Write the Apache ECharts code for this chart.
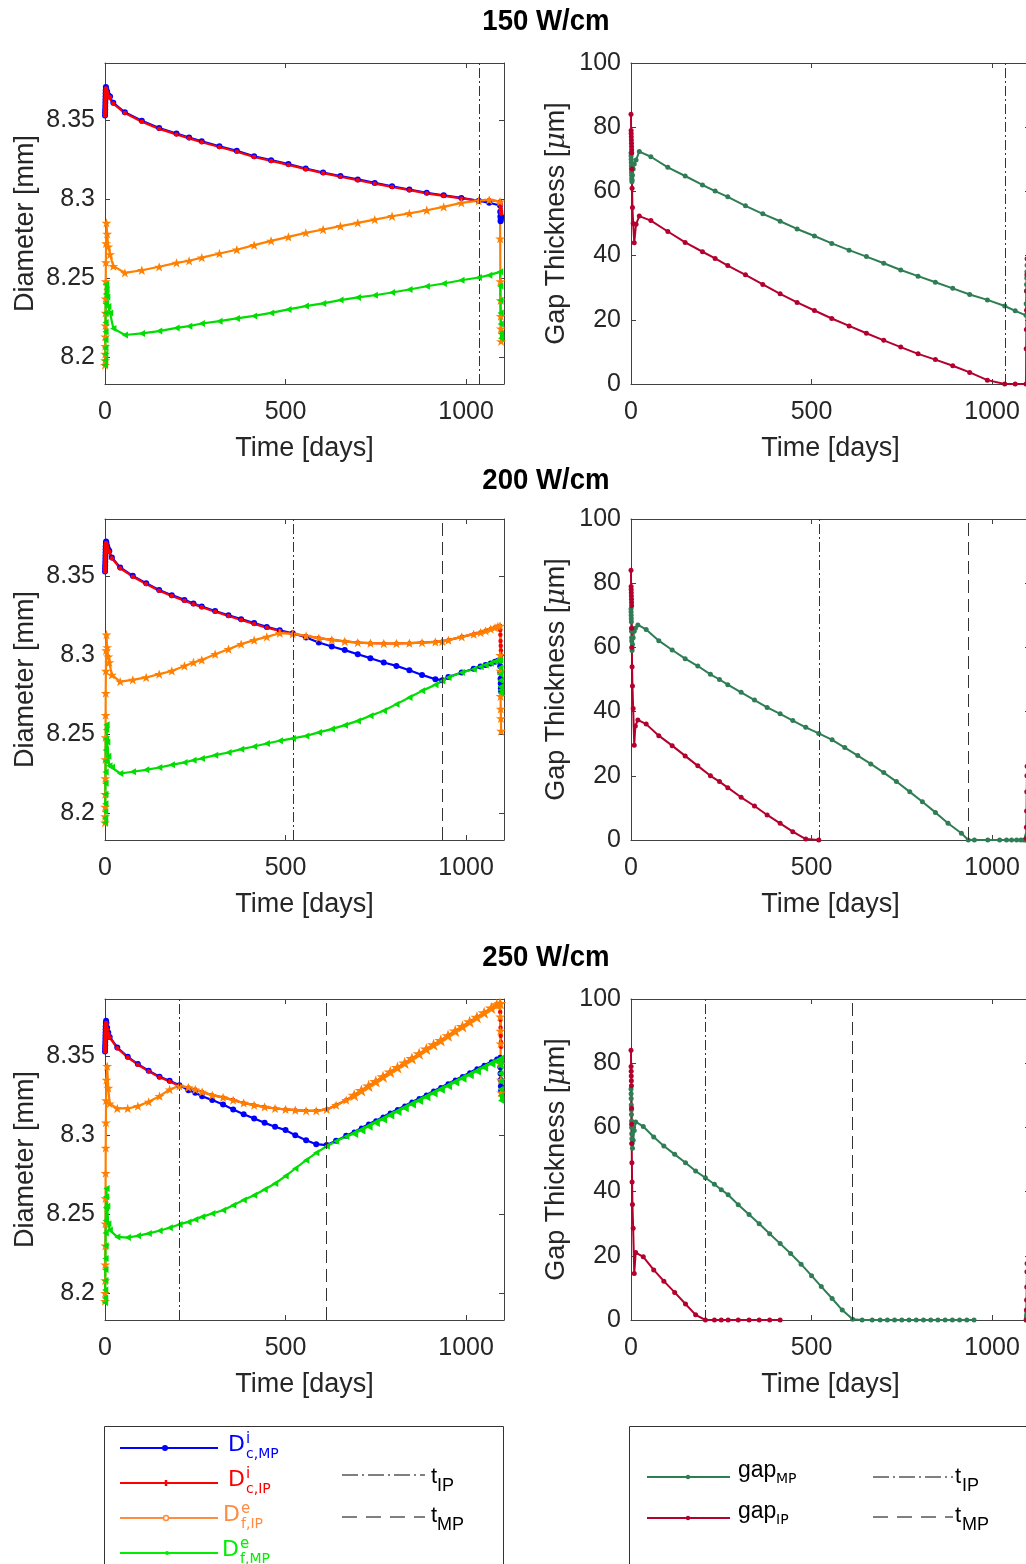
<!DOCTYPE html>
<html><head><meta charset="utf-8">
<script src="https://cdn.jsdelivr.net/npm/echarts/dist/echarts.min.js"></script>
<style>html,body{margin:0;padding:0;background:#fff;overflow:hidden}#c{width:1040px;height:1564px}</style>
</head><body><div id="c"></div><script>
// ---------------- DATA ----------------
const panelTitles = ['150 W/cm', '200 W/cm', '250 W/cm'];
const xTickValues = [0, 500, 1000];
const diamTickValues = [8.2, 8.25, 8.3, 8.35];
const startT = [0, 0.25, 0.5, 0.75, 1, 1.25, 1.5, 1.75, 2, 2.5, 3, 4, 6, 9];
const endT = [1094.5, 1095, 1095.5, 1096, 1096.5, 1097];

// 150 W/cm
const main150 = [14, 23, 55, 102, 150, 198, 233, 268, 317, 365, 413, 460, 508, 556, 604, 652, 700, 747, 795, 843, 891, 938, 987, 1035, 1064, 1094];
const dcMP150 = [8.353, 8.355, 8.357, 8.359, 8.361, 8.363, 8.365, 8.367, 8.369, 8.371, 8.370, 8.369, 8.368, 8.366,
  8.365, 8.361, 8.355, 8.3496, 8.345, 8.3416, 8.339, 8.3367, 8.3335, 8.3306, 8.3272, 8.3247, 8.3222, 8.3194, 8.3169, 8.3146, 8.3125, 8.3103, 8.3082, 8.3061, 8.304, 8.3025, 8.3008, 8.299, 8.2977, 8.296,
  8.292, 8.289, 8.286, 8.287, 8.288, 8.289];
const dcIP150 = [8.353, 8.355, 8.357, 8.359, 8.361, 8.363, 8.365, 8.367, 8.369, 8.370, 8.369, 8.368, 8.367, 8.365,
  8.3645, 8.3605, 8.3545, 8.349, 8.3445, 8.341, 8.3385, 8.336, 8.333, 8.33, 8.3267, 8.3242, 8.3217, 8.319, 8.3165, 8.3142, 8.312, 8.3098, 8.3077, 8.3057, 8.3037, 8.3021, 8.3005, 8.299, 8.2995, 8.2985,
  8.298, 8.297, 8.296, 8.294, 8.292, 8.291];
const dfIP150 = [8.195, 8.198, 8.202, 8.207, 8.213, 8.220, 8.228, 8.237, 8.248, 8.260, 8.272, 8.285, 8.278, 8.270,
  8.265, 8.2576, 8.2534, 8.255, 8.2572, 8.2597, 8.261, 8.263, 8.2656, 8.268, 8.2709, 8.2736, 8.2761, 8.2787, 8.2808, 8.2829, 8.285, 8.2871, 8.2892, 8.291, 8.293, 8.2951, 8.2977, 8.299, 8.2995, 8.2985,
  8.275, 8.248, 8.236, 8.226, 8.218, 8.21];
const dfMP150 = [8.195, 8.198, 8.202, 8.206, 8.211, 8.216, 8.222, 8.228, 8.234, 8.240, 8.246, 8.243, 8.238, 8.232,
  8.228, 8.2182, 8.214, 8.215, 8.2165, 8.2185, 8.2196, 8.2213, 8.2228, 8.2245, 8.2261, 8.228, 8.2302, 8.2323, 8.234, 8.2361, 8.2378, 8.2392, 8.2409, 8.2428, 8.2449, 8.2466, 8.2487, 8.2504, 8.2519, 8.254,
  8.245, 8.236, 8.228, 8.221, 8.215, 8.212];
const gapMP150 = [72, 71, 70, 69, 68, 67, 66, 65, 64, 63, 63.5, 65, 67, 68.5,
  69.8, 72.4, 70.8, 67.5, 64.8, 62, 60.1, 58.3, 55.5, 53, 50.7, 48.3, 46.1, 43.8, 41.7, 39.7, 37.6, 35.5, 33.6, 31.7, 29.8, 27.9, 26.2, 24.3, 22.8, 21.4,
  25, 29, 31, 33, 35, 37];
const gapIP150 = [84, 79, 78, 77, 76, 75, 74, 73, 72, 67, 61, 55, 50, 44,
  49.8, 52.3, 50.9, 47.5, 44.1, 41.2, 39.1, 36.9, 34, 31, 28.1, 25.4, 22.9, 20.4, 18.1, 15.8, 13.6, 11.5, 9.4, 7.6, 5.7, 3.6, 1.2, 0, 0, 0,
  11, 17, 23, 29, 34, 39];
const tIP150 = 1036, tMP150 = null;

// 200 W/cm
const main200 = [12, 19, 42, 77, 114, 150, 185, 220, 245, 268, 305, 342, 377, 413, 448, 484, 520, 557, 592, 628, 664, 700, 735, 772, 807, 843, 878, 915, 934, 951, 988, 1021, 1040, 1054, 1068, 1080, 1088, 1094];
const dcMP200 = [8.353, 8.355, 8.357, 8.359, 8.361, 8.363, 8.365, 8.367, 8.369, 8.371, 8.372, 8.371, 8.369, 8.367,
  8.366, 8.3618, 8.3555, 8.3502, 8.3456, 8.3413, 8.338, 8.335, 8.3327, 8.3308, 8.328, 8.3253, 8.3228, 8.3203, 8.3179, 8.3158, 8.3139, 8.3112, 8.308, 8.3055, 8.3032, 8.3006, 8.2981, 8.2954, 8.2932, 8.2905, 8.2875, 8.2848, 8.2842, 8.2862, 8.289, 8.2914, 8.2928, 8.2938, 8.2948, 8.2958, 8.2965, 8.297,
  8.293, 8.289, 8.285, 8.282, 8.279, 8.277];
const dcIP200 = [8.353, 8.355, 8.357, 8.359, 8.361, 8.363, 8.365, 8.367, 8.369, 8.370, 8.371, 8.370, 8.368, 8.366,
  8.3655, 8.3613, 8.355, 8.3497, 8.3451, 8.3408, 8.3375, 8.3345, 8.3322, 8.3303, 8.3275, 8.3248, 8.3223, 8.3198, 8.3174, 8.3153, 8.3135, 8.3122, 8.3108, 8.3097, 8.3087, 8.308, 8.3076, 8.3074, 8.3074, 8.3076, 8.308, 8.3084, 8.3087, 8.3095, 8.3116, 8.3133, 8.3143, 8.3154, 8.3165, 8.3175, 8.3182, 8.3186,
  8.316, 8.313, 8.309, 8.306, 8.303, 8.300];
const dfIP200 = [8.194, 8.198, 8.204, 8.212, 8.222, 8.234, 8.248, 8.262, 8.276, 8.29, 8.303, 8.313, 8.305, 8.299,
  8.2954, 8.2875, 8.2833, 8.2844, 8.2859, 8.288, 8.29, 8.2932, 8.2954, 8.297, 8.3006, 8.3038, 8.307, 8.3095, 8.3116, 8.3139, 8.3135, 8.3122, 8.3108, 8.3097, 8.3087, 8.308, 8.3076, 8.3074, 8.3074, 8.3076, 8.308, 8.3084, 8.3087, 8.3095, 8.3116, 8.3133, 8.3143, 8.3154, 8.3165, 8.3175, 8.3182, 8.3186,
  8.30, 8.29, 8.274, 8.266, 8.26, 8.252];
const dfMP200 = [8.194, 8.197, 8.201, 8.206, 8.212, 8.219, 8.226, 8.233, 8.240, 8.247, 8.253, 8.256, 8.245, 8.236,
  8.23, 8.229, 8.2251, 8.2262, 8.2274, 8.2289, 8.2306, 8.2321, 8.2335, 8.2346, 8.2367, 8.2384, 8.2405, 8.2422, 8.2441, 8.2458, 8.2473, 8.2489, 8.2511, 8.2532, 8.2557, 8.2584, 8.2616, 8.2648, 8.269, 8.2732, 8.2774, 8.2812, 8.2837, 8.2859, 8.289, 8.2911, 8.2926, 8.2937, 8.2949, 8.296, 8.2966, 8.297,
  8.292, 8.288, 8.284, 8.28, 8.278, 8.276];
const gapMP200 = [72, 71, 70, 69, 68, 66, 65, 63, 62, 60, 59, 61, 63, 65,
  66, 67, 65.6, 62.1, 59.2, 56.5, 54.2, 51.6, 50, 48.4, 46, 43.6, 41.3, 39.3, 37.2, 35.1, 33.2, 31.2, 28.8, 26.3, 23.7, 21, 18.2, 15, 11.9, 8.6, 5.2, 2.1, 0, 0, 0, 0, 0, 0, 0, 0, 0, 0,
  0, 0.3, 0.6, 1, 1.3, 1.6];
const gapIP200 = [84, 79, 78, 77, 76, 75, 74, 73, 66, 60, 54, 48, 41, 29.5,
  35.5, 37.4, 36.1, 32.5, 29.4, 26.2, 23.1, 20, 18.2, 16.3, 13.3, 10.6, 7.8, 5.2, 2.6, 0.3, 0,
  null, null, null, null, null, null, null, null, null, null, null, null, null, null, null, null, null, null, null, null, null,
  0.5, 4, 9, 15, 20, 23];
const tIP200 = 520, tMP200 = 934;

// 250 W/cm
const main250 = [13, 34, 63, 91, 121, 151, 179, 206, 231, 250, 269, 297, 327, 355, 384, 413, 442, 471, 500, 527, 557, 585, 614, 640, 668,
  690, 710, 730, 750, 770, 790, 810, 830, 850, 870, 890, 910, 930, 950, 970, 990, 1010, 1030, 1050, 1070, 1085, 1094];
const dcMP250 = [8.353, 8.355, 8.357, 8.359, 8.361, 8.363, 8.365, 8.367, 8.369, 8.371, 8.3725, 8.371, 8.368, 8.365,
  8.3622, 8.3555, 8.3496, 8.345, 8.3408, 8.337, 8.3344, 8.3316, 8.3285, 8.3268, 8.3247, 8.3222, 8.3194, 8.3163, 8.3133, 8.3105, 8.3078, 8.3053, 8.3032, 8.3, 8.2968, 8.2943, 8.2937, 8.2964, 8.2996,
  8.302, 8.3045, 8.307, 8.3092, 8.3115, 8.314, 8.3162, 8.3185, 8.321, 8.3232, 8.3255, 8.328, 8.3302, 8.3325, 8.335, 8.3372, 8.3395, 8.342, 8.3442, 8.3465, 8.3482, 8.3494,
  8.347, 8.343, 8.339, 8.335, 8.331, 8.328];
const dcIP250 = [8.353, 8.355, 8.357, 8.359, 8.361, 8.363, 8.365, 8.367, 8.369, 8.370, 8.371, 8.370, 8.367, 8.364,
  8.3618, 8.3551, 8.3492, 8.3446, 8.3404, 8.3366, 8.334, 8.3312, 8.3302, 8.3289, 8.3274, 8.3253, 8.3239, 8.3222, 8.3204, 8.319, 8.3179, 8.3169, 8.3163, 8.3158, 8.3154, 8.3154, 8.3163, 8.319, 8.3222,
  8.3253, 8.3283, 8.3312, 8.334, 8.337, 8.34, 8.3428, 8.3457, 8.3485, 8.3515, 8.3545, 8.3572, 8.36, 8.363, 8.366, 8.3688, 8.3718, 8.3746, 8.3775, 8.3805, 8.3825, 8.3834,
  8.378, 8.373, 8.368, 8.363, 8.359, 8.356];
const dfIP250 = [8.195, 8.2, 8.208, 8.218, 8.23, 8.244, 8.26, 8.276, 8.292, 8.308, 8.322, 8.335, 8.3437, 8.33,
  8.32, 8.3169, 8.3169, 8.3184, 8.3211, 8.3247, 8.3289, 8.3312, 8.3302, 8.3289, 8.3274, 8.3253, 8.3239, 8.3222, 8.3204, 8.319, 8.3179, 8.3169, 8.3163, 8.3158, 8.3154, 8.3154, 8.3163, 8.319, 8.3222,
  8.3253, 8.3283, 8.3312, 8.334, 8.337, 8.34, 8.3428, 8.3457, 8.3485, 8.3515, 8.3545, 8.3572, 8.36, 8.363, 8.366, 8.3688, 8.3718, 8.3746, 8.3775, 8.3805, 8.3825, 8.3834,
  8.375, 8.366, 8.358, 8.345, 8.335, 8.327];
const dfMP250 = [8.194, 8.197, 8.202, 8.208, 8.215, 8.222, 8.23, 8.238, 8.246, 8.254, 8.261, 8.2663, 8.255, 8.244,
  8.2399, 8.2356, 8.2352, 8.2363, 8.2378, 8.2395, 8.2414, 8.2435, 8.2451, 8.2466, 8.2483, 8.2504, 8.2525, 8.2557, 8.2589, 8.262, 8.2656, 8.2694, 8.2741, 8.2789, 8.2842, 8.2888, 8.293, 8.2962, 8.2992,
  8.301, 8.3033, 8.3057, 8.308, 8.3103, 8.3127, 8.315, 8.3173, 8.3197, 8.322, 8.3243, 8.3267, 8.329, 8.3313, 8.3337, 8.336, 8.3383, 8.3407, 8.343, 8.3453, 8.347, 8.348,
  8.344, 8.339, 8.334, 8.329, 8.325, 8.322];
const gapMP250 = [72, 70.5, 69, 67, 65.5, 64, 62, 60, 58, 56.5, 55, 53.5, 56, 59,
  61.7, 60.3, 57, 54.2, 51.6, 49, 46.4, 44.3, 42.3, 40.6, 39, 35.9, 32.9, 30, 26.9, 23.8, 20.7, 17.4, 13.8, 10.4, 6.7, 3.1, 0.2, 0, 0,
  0, 0, 0, 0, 0, 0, 0, 0, 0, 0, 0, 0, 0, 0, null, null, null, null, null, null, null, null,
  0, 0.5, 1, 1.5, 2, 2.6];
const gapIP250 = [84, 79, 77.5, 76, 74.5, 73, 66, 61, 55, 49, 43, 36, 28.6, 14.5,
  21, 19.7, 15.6, 12.1, 8.6, 5, 1.6, 0, 0, 0, 0, 0, 0, 0, 0, 0, null, null, null, null, null, null, null, null, null,
  null, null, null, null, null, null, null, null, null, null, null, null, null, null, null, null, null, null, null, null, null, null,
  0, 3.1, 6.2, 10.3, 15, 17.6];
const tIP250 = 206, tMP250 = 614;

// ---------------- BUILD ----------------
const FONT = '"Liberation Sans", Arial, sans-serif';
const AX = '#404040', TXT = '#262626';
const C = {dcMP:'#0000ff', dcIP:'#ff0000', dfIP:'#ff8000', dfMP:'#00dd00', gapMP:'#2f7d55', gapIP:'#b4002d'};
const STAR = 'path://M50,2 L61.8,35.4 L97.6,35.4 L68.6,56.7 L79.4,90.5 L50,70 L20.6,90.5 L31.4,56.7 L2.4,35.4 L38.2,35.4 Z';
const LTRI = 'path://M0,50 L90,0 L90,100 Z';
const DASHDOT = [10, 3, 2, 3], DASHED = [13, 6];
const XMAX = 1105, YMIN = 8.183, YMAX = 8.3862;

const zip = (t, v) => t.map((x, i) => [x, (v[i] === null || v[i] === undefined) ? '-' : v[i]]);
const panels = [
  {t: startT.concat(main150, endT), dcMP: dcMP150, dcIP: dcIP150, dfIP: dfIP150, dfMP: dfMP150, gapMP: gapMP150, gapIP: gapIP150, tIP: tIP150, tMP: tMP150, top: 63, dense: false},
  {t: startT.concat(main200, endT), dcMP: dcMP200, dcIP: dcIP200, dfIP: dfIP200, dfMP: dfMP200, gapMP: gapMP200, gapIP: gapIP200, tIP: tIP200, tMP: tMP200, top: 519, dense: false},
  {t: startT.concat(main250, endT), dcMP: dcMP250, dcIP: dcIP250, dfIP: dfIP250, dfMP: dfMP250, gapMP: gapMP250, gapIP: gapIP250, tIP: tIP250, tMP: tMP250, top: 999, dense: true}
];

const grid = [], xAxis = [], yAxis = [], series = [];
function addAxes(gi, isGap) {
  xAxis.push({gridIndex: gi, type: 'value', min: 0, max: XMAX, position: 'bottom',
    axisLine: {show: true, onZero: false, lineStyle: {color: AX, width: 1}},
    axisTick: {show: true, inside: true, length: 5, customValues: xTickValues, lineStyle: {color: AX}},
    axisLabel: {show: true, customValues: xTickValues, fontSize: 25, color: TXT, fontFamily: FONT, margin: 16,
      formatter: v => String(v)},
    splitLine: {show: false},
    name: 'Time [days]', nameLocation: 'middle', nameGap: 51,
    nameTextStyle: {fontSize: 27, color: TXT, fontFamily: FONT}});
  xAxis.push({gridIndex: gi, type: 'value', min: 0, max: XMAX, position: 'top',
    axisLine: {show: true, onZero: false, lineStyle: {color: AX, width: 1}},
    axisTick: {show: true, inside: true, length: 5, customValues: xTickValues, lineStyle: {color: AX}},
    axisLabel: {show: false}, splitLine: {show: false}});
  const yBase = isGap ? {min: 0, max: 100, interval: 20} : {min: YMIN, max: YMAX};
  const tickC = isGap ? {} : {customValues: diamTickValues};
  yAxis.push(Object.assign({gridIndex: gi, type: 'value', position: 'left',
    axisLine: {show: true, onZero: false, lineStyle: {color: AX, width: 1}},
    axisTick: Object.assign({show: true, inside: true, length: 5, lineStyle: {color: AX}}, tickC),
    axisLabel: Object.assign({show: true, fontSize: 25, color: TXT, fontFamily: FONT, margin: 10, formatter: v => String(v)}, tickC),
    splitLine: {show: false},
    name: isGap ? 'Gap Thickness [{i|μ}m]' : 'Diameter [mm]', nameLocation: 'middle', nameGap: isGap ? 61 : 66,
    nameTextStyle: {fontSize: 27, color: TXT, fontFamily: FONT,
      rich: {i: {fontSize: 27, color: TXT, fontFamily: '"DejaVu Serif", serif', fontStyle: 'italic'}}}}, yBase));
  yAxis.push(Object.assign({gridIndex: gi, type: 'value', position: 'right',
    axisLine: {show: true, onZero: false, lineStyle: {color: AX, width: 1}},
    axisTick: Object.assign({show: true, inside: true, length: 5, lineStyle: {color: AX}}, tickC),
    axisLabel: {show: false}, splitLine: {show: false}}, yBase));
}
function vlines(p) {
  const d = [{xAxis: p.tIP, lineStyle: {type: DASHDOT}}];
  if (p.tMP !== null) d.push({xAxis: p.tMP, lineStyle: {type: DASHED}});
  return {silent: true, symbol: ['none', 'none'], label: {show: false}, animation: false,
    lineStyle: {color: '#333', width: 1}, data: d};
}
function line(gi, data, color, symbol, size, width, extra) {
  return Object.assign({type: 'line', xAxisIndex: 2 * gi, yAxisIndex: 2 * gi, data: data,
    symbol: symbol, symbolSize: size, symbolKeepAspect: true, showSymbol: true, showAllSymbol: true,
    connectNulls: false, clip: true, animation: false,
    lineStyle: {color: color, width: width}, itemStyle: {color: color, borderWidth: 0}}, extra || {});
}
// in the dense late-life stretch of the 250 W/cm run the markers overlap into a band
const sz = (base, big, dense) => dense ? (v => (v[0] > 670 && v[0] < 1094.2 ? big : base)) : base;
panels.forEach((p, r) => {
  const gL = 2 * r, gR = 2 * r + 1;
  grid.push({left: 105, top: p.top, width: 399, height: 321});
  grid.push({left: 631, top: p.top, width: 399, height: 321});
  addAxes(gL, false);
  addAxes(gR, true);
  series.push(line(gL, zip(p.t, p.dcMP), C.dcMP, 'circle', sz(6, 5, p.dense), 2.2, {markLine: vlines(p)}));
  series.push(line(gL, zip(p.t, p.dcIP), C.dcIP, 'circle', 4.5, 2.2));
  series.push(line(gL, zip(p.t, p.dfIP), C.dfIP, STAR, sz(10, 13, p.dense), 2.2));
  series.push(line(gL, zip(p.t, p.dfMP), C.dfMP, LTRI, sz(7, 9, p.dense), 2.2));
  series.push(line(gR, zip(p.t, p.gapMP), C.gapMP, 'circle', 5, 2, {markLine: vlines(p)}));
  series.push(line(gR, zip(p.t, p.gapIP), C.gapIP, 'circle', 5, 2));
});

// ---------------- GRAPHICS: titles + legends ----------------
function txt(x, y, s, size, color, family, weight, align, sx) {
  return {type: 'text', x: x, y: y, z: 100, silent: true, scaleX: sx || 1,
    style: {text: s, fill: color, font: (weight || 'normal') + ' ' + size + 'px ' + family,
      textAlign: align || 'left', align: align || 'left', textVerticalAlign: 'middle', verticalAlign: 'middle'}};
}
function seg(x1, y1, x2, y2, color, w, dash) {
  return {type: 'line', z: 100, silent: true, shape: {x1: x1, y1: y1, x2: x2, y2: y2},
    style: {stroke: color, lineWidth: w, lineDash: dash || null}};
}
function dot(cx, cy, r, fill, stroke) {
  return {type: 'circle', z: 101, silent: true, shape: {cx: cx, cy: cy, r: r},
    style: {fill: fill, stroke: stroke || null, lineWidth: stroke ? 1.5 : 0}};
}
const DV = '"DejaVu Sans", sans-serif';
const titleY = [22, 481, 958];
const graphic = [];
panelTitles.forEach((s, i) => graphic.push(txt(546, titleY[i], s, 30, '#000', FONT, 'bold', 'center', 0.92)));
// left legend
graphic.push({type: 'rect', z: 99, silent: true, shape: {x: 104.5, y: 1426.5, width: 399, height: 200},
  style: {fill: '#fff', stroke: '#333', lineWidth: 1}});
const legL = [
  {y: 1448, c: '#0000ff', sup: 'i', sub: 'c,MP', dx: 228, mk: 'o'},
  {y: 1483, c: '#ff0000', sup: 'i', sub: 'c,IP', dx: 228, mk: '|'},
  {y: 1518, c: '#ff8c40', sup: 'e', sub: 'f,IP', dx: 223, mk: 'ring'},
  {y: 1553, c: '#00ee00', sup: 'e', sub: 'f,MP', dx: 222, mk: '.'}
];
legL.forEach(e => {
  graphic.push(seg(120, e.y, 218, e.y, e.c, 2));
  if (e.mk === 'o') graphic.push(dot(165, e.y, 3, e.c));
  if (e.mk === '|') graphic.push(seg(166, e.y - 3, 166, e.y + 3, e.c, 2.5));
  if (e.mk === 'ring') graphic.push(dot(166, e.y, 2.5, '#fff', e.c));
  if (e.mk === '.') graphic.push(dot(167, e.y, 2, e.c));
  graphic.push(txt(e.dx, e.y - 3, 'D', 22, e.c, DV));
  graphic.push(txt(e.dx + 18, e.y - 9, e.sup, 15, e.c, DV));
  graphic.push(txt(e.dx + 18, e.y + 6, e.sub, 14, e.c, DV));
});
graphic.push(seg(342, 1475, 425, 1475, '#000', 1, [16, 4, 2, 4]));
graphic.push(txt(431, 1477, 't', 22, '#000', FONT));
graphic.push(txt(437, 1486, 'IP', 18, '#000', FONT));
graphic.push(seg(342, 1517, 425, 1517, '#000', 1, [15, 9]));
graphic.push(txt(431, 1516, 't', 22, '#000', FONT));
graphic.push(txt(437, 1525, 'MP', 18, '#000', FONT));
// right legend
graphic.push({type: 'rect', z: 99, silent: true, shape: {x: 629.5, y: 1426.5, width: 450, height: 200},
  style: {fill: '#fff', stroke: '#333', lineWidth: 1}});
[{y: 1477, c: '#2f7d55', sub: 'MP'}, {y: 1518, c: '#b4002d', sub: 'IP'}].forEach(e => {
  graphic.push(seg(647, e.y, 730, e.y, e.c, 2));
  graphic.push(dot(688, e.y, 2.2, e.c));
  graphic.push(txt(738, e.y - 6, 'gap', 23, '#000', FONT));
  graphic.push(txt(776, e.y + 2, e.sub, 14, '#000', DV));
});
graphic.push(seg(873, 1477, 953, 1477, '#000', 1, [16, 4, 2, 4]));
graphic.push(txt(955, 1477, 't', 22, '#000', FONT));
graphic.push(txt(962, 1486, 'IP', 18, '#000', FONT));
graphic.push(seg(873, 1517, 953, 1517, '#000', 1, [15, 9]));
graphic.push(txt(955, 1516, 't', 22, '#000', FONT));
graphic.push(txt(962, 1525, 'MP', 18, '#000', FONT));

const chart = echarts.init(document.getElementById('c'), null, {renderer: 'canvas'});
chart.setOption({backgroundColor: '#fff', animation: false, grid: grid, xAxis: xAxis, yAxis: yAxis,
  series: series, graphic: graphic});
</script></body></html>
